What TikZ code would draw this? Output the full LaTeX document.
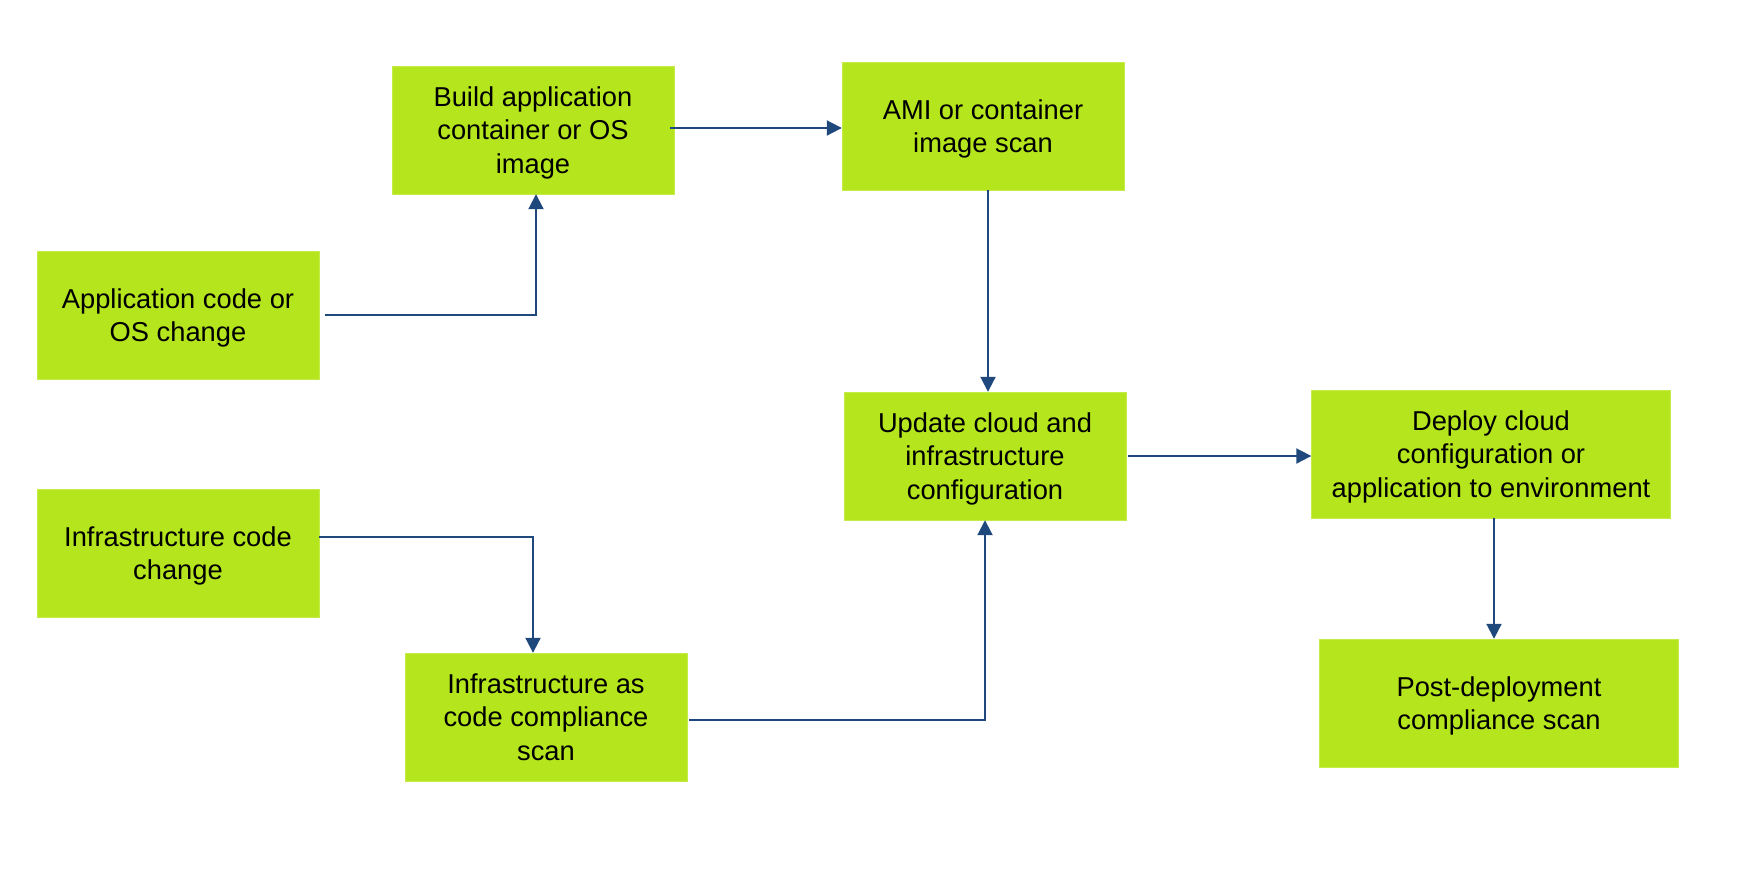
\documentclass[tikz,border=0pt]{standalone}
\usepackage{fontspec}
\setmainfont{Liberation Sans}
\usetikzlibrary{arrows.meta}
\definecolor{boxgreen}{HTML}{B5E61D}
\definecolor{flowblue}{HTML}{1F497D}
\tikzset{
    stepbox/.style={fill=boxgreen, draw=boxgreen!80!white, minimum width=282pt, minimum height=128pt,
        align=center, font=\fontsize{27.3}{33.5}\selectfont, inner sep=0pt, text depth=-9pt},
    widebox/.style={stepbox, minimum width=359pt},
    flow/.style={draw=flowblue, line width=2pt, -{Triangle[length=15pt, width=15pt]}}
}
\begin{document}
\begin{tikzpicture}[x=1pt, y=-1pt]
        \useasboundingbox (0,0) rectangle (1752,895);

        \node[stepbox] (build) at (533,130) {Build application\\container or OS\\image};
        \node[stepbox] (ami) at (983,126) {AMI or container\\image scan};
        \node[stepbox] (appcode) at (178,315) {Application code or\\OS change};
        \node[stepbox] (update) at (985,456) {Update cloud and\\infrastructure\\configuration};
        \node[widebox] (deploy) at (1491,454) {Deploy cloud\\configuration or\\application to environment};
        \node[stepbox] (infracode) at (178,553) {Infrastructure code\\change};
        \node[stepbox] (iacscan) at (546,717) {Infrastructure as\\code compliance\\scan};
        \node[widebox] (post) at (1499,703) {Post-deployment\\compliance scan};

        \draw[flow] ([xshift=6pt]appcode.east) -| ([xshift=3pt]build.south);
        \draw[flow] ([xshift=-4pt,yshift=2pt]build.east) -- ([yshift=2pt]build.east -| ami.west);
        \draw[flow] ([xshift=5pt]ami.south) -- ([xshift=5pt]ami.south |- update.north);
        \draw[flow] ([yshift=16pt]infracode.east) -| ([xshift=-13pt]iacscan.north);
        \draw[flow] ([xshift=2pt,yshift=-3pt]iacscan.east) -| (update.south);
        \draw[flow] ([xshift=2pt]update.east) -- (update.east -| deploy.west);
        \draw[flow] ([xshift=3pt]deploy.south) -- ([xshift=3pt]deploy.south |- post.north);
    \end{tikzpicture}
\end{document}
